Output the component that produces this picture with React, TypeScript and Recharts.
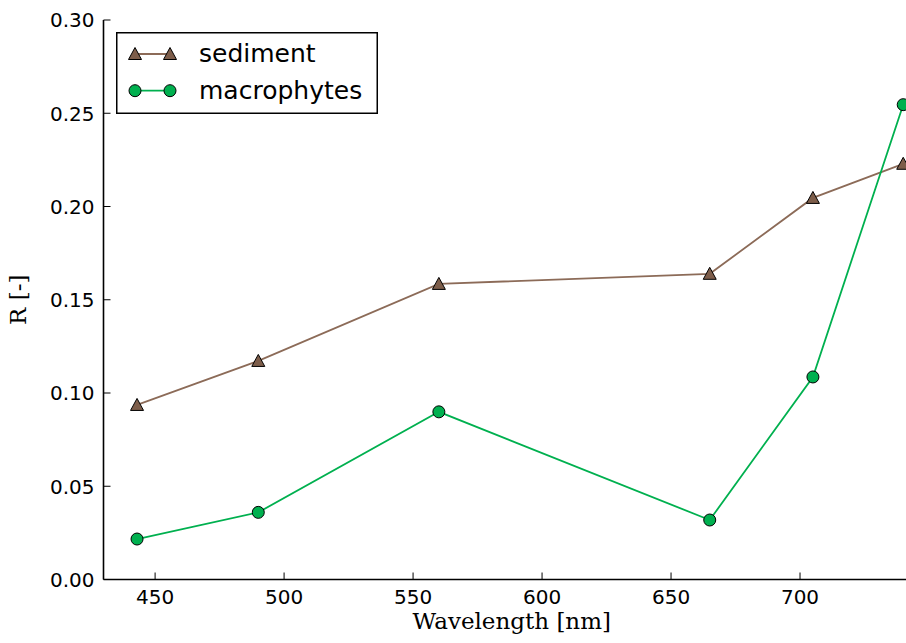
import React from "react";
import { LineChart, Line, XAxis, YAxis, Legend, Label } from "recharts";

const wavelengths = [443, 490, 560, 665, 705, 740];
const sediment = [0.0936, 0.1172, 0.1585, 0.1639, 0.2046, 0.2229];
const macrophytes = [0.0217, 0.036, 0.0899, 0.0319, 0.1086, 0.2546];
const xTicks = [450, 500, 550, 600, 650, 700];
const yTicks = [0, 0.05, 0.1, 0.15, 0.2, 0.25, 0.3];
const seriesNames = ["sediment", "macrophytes"];

const data = wavelengths.map((w, i) => ({
  w,
  sediment: sediment[i],
  macrophytes: macrophytes[i],
}));

const SED_LINE = "#8c6b58";
const SED_FILL = "#7d5d4a";
const MAC = "#00b04f";
const SANS = "DejaVu Sans";
const SERIF = "DejaVu Serif";

const Tri = ({ cx, cy }: any) => {
  if (cx == null || cy == null) return null;
  return (
    <polygon
      points={`${cx},${cy - 6.5} ${cx - 6.5},${cy + 5.5} ${cx + 6.5},${cy + 5.5}`}
      fill={SED_FILL}
      stroke="#000"
      strokeWidth={1}
    />
  );
};

const Circ = ({ cx, cy }: any) => {
  if (cx == null || cy == null) return null;
  return <circle cx={cx} cy={cy} r={6} fill={MAC} stroke="#000" strokeWidth={1} />;
};

const BottomTick = ({ x, y, payload }: any) => (
  <g>
    <line x1={x} x2={x} y1={y} y2={y - 7} stroke="#000" strokeWidth={1} />
    <text x={x} y={y + 24} textAnchor="middle" fontSize={20} fontFamily={SANS} fill="#000">
      {payload.value}
    </text>
  </g>
);

const TopTick = ({ x, y }: any) => (
  <line x1={x} x2={x} y1={y} y2={y + 7} stroke="#000" strokeWidth={1} />
);

const LeftTick = ({ x, y, payload }: any) => (
  <g>
    <line x1={x} x2={x + 7} y1={y} y2={y} stroke="#000" strokeWidth={1} />
    <text x={x - 9} y={y + 7.3} textAnchor="end" fontSize={20} fontFamily={SANS} fill="#000">
      {Number(payload.value).toFixed(2)}
    </text>
  </g>
);

const LegendBox = () => (
  <svg width={262} height={82} style={{ display: "block" }}>
    <rect x={0.75} y={0.75} width={260.5} height={80.5} fill="#fff" stroke="#000" strokeWidth={1.5} />
    {seriesNames.map((name, i) => {
      const cy = 22 + i * 36.7;
      const color = i === 0 ? SED_LINE : MAC;
      const M = i === 0 ? Tri : Circ;
      return (
        <g key={name}>
          <line x1={19} x2={54} y1={cy} y2={cy} stroke={color} strokeWidth={1.8} />
          <M cx={19} cy={cy} />
          <M cx={54} cy={cy} />
          <text x={83} y={cy + 8.3} fontSize={25} fontFamily={SANS} fill="#000">
            {name}
          </text>
        </g>
      );
    })}
  </svg>
);

export default function App() {
  return (
    <div
      style={{
        position: "fixed",
        left: 0,
        top: 0,
        width: 906,
        height: 643,
        overflow: "hidden",
        background: "#fff",
      }}
    >
      <LineChart
        width={932}
        height={643}
        data={data}
        margin={{ top: 20, right: 3, bottom: 0, left: 0 }}
      >
        <XAxis
          dataKey="w"
          type="number"
          domain={[430, 750]}
          ticks={xTicks}
          interval={0}
          allowDataOverflow
          height={63.5}
          tickSize={0}
          tickMargin={0}
          tickLine={false}
          axisLine={{ stroke: "#000", strokeWidth: 1.6 }}
          tick={<BottomTick />}
        >
          <Label
            content={({ viewBox }: any) => (
              <text
                x={viewBox.x + viewBox.width / 2 - 4.5}
                y={viewBox.y + 49.5}
                textAnchor="middle"
                fontSize={23}
                fontFamily={SERIF}
                fill="#000"
              >
                Wavelength [nm]
              </text>
            )}
          />
        </XAxis>
        <XAxis
          xAxisId="top"
          dataKey="w"
          type="number"
          orientation="top"
          domain={[430, 750]}
          ticks={xTicks}
          interval={0}
          allowDataOverflow
          height={0}
          tickSize={0}
          tickMargin={0}
          tickLine={false}
          axisLine={{ stroke: "#000", strokeWidth: 1.6 }}
          tick={<TopTick />}
        />
        <YAxis
          type="number"
          domain={[0, 0.3]}
          ticks={yTicks}
          interval={0}
          allowDataOverflow
          width={103.5}
          tickSize={0}
          tickMargin={0}
          tickLine={false}
          axisLine={{ stroke: "#000", strokeWidth: 1.6 }}
          tick={<LeftTick />}
        >
          <Label
            content={({ viewBox }: any) => (
              <text
                transform={`translate(26, ${viewBox.y + viewBox.height / 2}) rotate(-90)`}
                textAnchor="middle"
                fontSize={23}
                fontFamily={SERIF}
                fill="#000"
              >
                R [-]
              </text>
            )}
          />
        </YAxis>
        <Legend
          layout="vertical"
          align="center"
          verticalAlign="middle"
          wrapperStyle={{ position: "absolute", left: 116, top: 32, width: 262, height: 82 }}
          content={() => <LegendBox />}
        />
        <Line
          dataKey="sediment"
          name={seriesNames[0]}
          stroke={SED_LINE}
          strokeWidth={1.8}
          dot={<Tri />}
          activeDot={false}
          isAnimationActive={false}
        />
        <Line
          dataKey="macrophytes"
          name={seriesNames[1]}
          stroke={MAC}
          strokeWidth={1.8}
          dot={<Circ />}
          activeDot={false}
          isAnimationActive={false}
        />
      </LineChart>
    </div>
  );
}
